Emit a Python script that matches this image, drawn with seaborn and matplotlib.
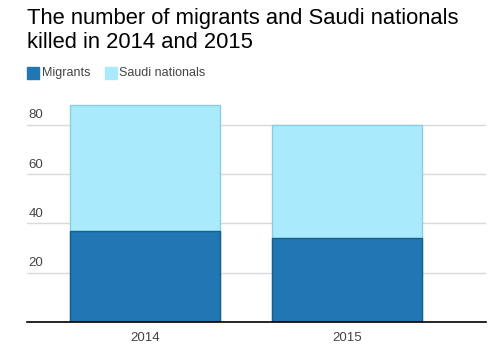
import matplotlib
matplotlib.use('Agg')
import matplotlib.pyplot as plt
import seaborn as sns
import pandas as pd
from matplotlib.patches import Rectangle
import matplotlib.transforms as mtransforms

### Data

years = ['2014', '2015']
migrants = [37, 34]
saudi_nationals = [51, 46]
y_ticks = [20, 40, 60, 80]

title = 'The number of migrants and Saudi nationals\nkilled in 2014 and 2015'
migrant_color = '#2077b4'
saudi_color = '#aaeafd'

df = pd.DataFrame({'year': years, 'Migrants': migrants, 'Saudi nationals': saudi_nationals})
df['total'] = df['Migrants'] + df['Saudi nationals']

sns.set_theme(style='white')
plt.rcParams['font.family'] = ['Liberation Sans', 'DejaVu Sans']

fig = plt.figure(figsize=(5, 3.63), dpi=100)
ax = fig.add_axes([0.054, 1 - 322 / 363, 0.918, (322 - 95) / 363])

# totals first (light), migrants drawn on top of them -> stacked look
sns.barplot(data=df, x='year', y='total', color=saudi_color, width=0.745,
            saturation=1, edgecolor='#8ccde2', linewidth=1, ax=ax, zorder=2)
sns.barplot(data=df, x='year', y='Migrants', color=migrant_color, width=0.745,
            saturation=1, edgecolor='#195d8c', linewidth=1, ax=ax, zorder=3)

ax.set_xlim(-0.584, 1.688)
ax.set_ylim(0, 92)
ax.set_xlabel('')
ax.set_ylabel('')
for s in ['top', 'right', 'left']:
    ax.spines[s].set_visible(False)
ax.spines['bottom'].set_color('black')
ax.spines['bottom'].set_linewidth(1.2)
ax.spines['bottom'].set_zorder(4)

ax.set_yticks(y_ticks)
ax.set_yticklabels([])
ax.tick_params(axis='y', length=0)
ax.yaxis.grid(True, color='#d9d9d9', linewidth=1)
ax.set_axisbelow(True)
trans = mtransforms.blended_transform_factory(ax.transAxes, ax.transData)
for t in y_ticks:
    ax.text(0.003, t + 1.3, str(t), transform=trans, ha='left', va='bottom',
            fontsize=9.5, color='#444444')

ax.tick_params(axis='x', length=0, pad=7, labelsize=9.5, labelcolor='#444444')

fig.text(27 / 500, 1 - 8 / 363, title, ha='left', va='top', fontsize=15.8,
         color='black', linespacing=1.17)

# legend row
fig.patches.append(Rectangle((27 / 500, 1 - 79 / 363), 12 / 500, 12 / 363,
                             transform=fig.transFigure, color=migrant_color))
fig.text(42 / 500, 1 - 73 / 363, 'Migrants', ha='left', va='center',
         fontsize=9, color='#444444')
fig.patches.append(Rectangle((105 / 500, 1 - 79 / 363), 12 / 500, 12 / 363,
                             transform=fig.transFigure, color=saudi_color))
fig.text(119 / 500, 1 - 73 / 363, 'Saudi nationals', ha='left', va='center',
         fontsize=9, color='#444444')

fig.savefig('out.png', dpi=100)
